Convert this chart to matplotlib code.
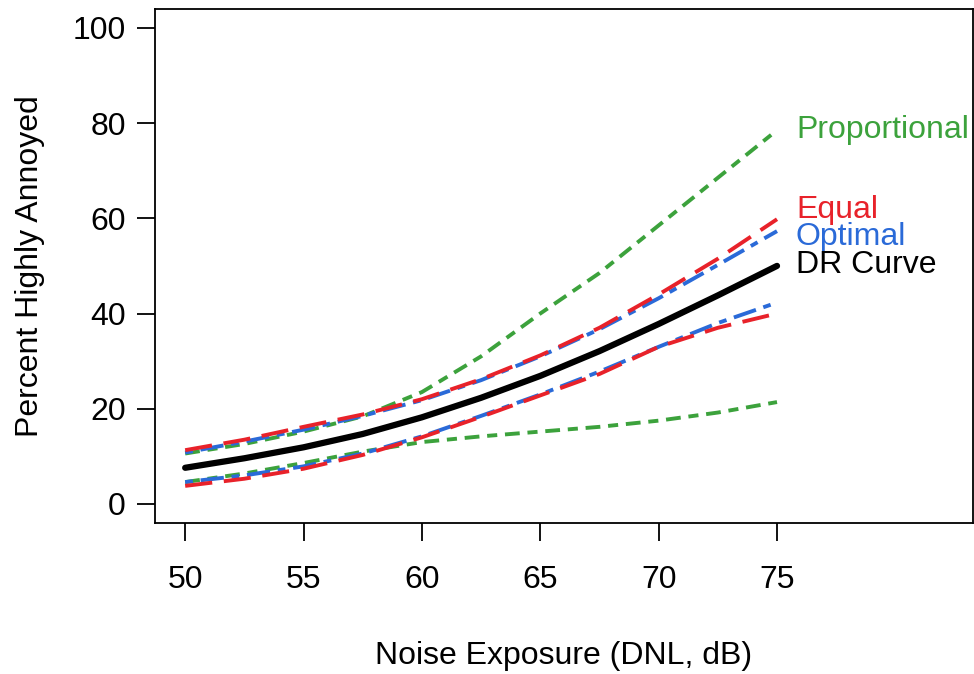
import matplotlib
matplotlib.use("Agg")
from matplotlib import pyplot as plt

plt.rcParams['font.family'] = ['Liberation Sans', 'DejaVu Sans']

dnl = [50, 52.5, 55, 57.5, 60, 62.5, 65, 67.5, 70, 72.5, 75]

dr_curve = [7.6, 9.6, 11.9, 14.7, 18.2, 22.3, 26.9, 32.1, 37.8, 43.8, 50.0]

equal_hi = [11.3, 13.5, 16.2, 18.8, 22.0, 26.2, 31.2, 37.0, 44.0, 51.5, 59.8]
equal_lo = [3.8, 5.3, 7.4, 10.3, 14.0, 18.3, 22.8, 27.3, 33.0, 37.0, 40.0]

optimal_hi = [10.8, 13.1, 15.6, 18.5, 21.8, 26.0, 31.0, 36.7, 43.2, 50.2, 57.3]
optimal_lo = [4.6, 6.0, 7.9, 10.6, 14.2, 18.5, 23.0, 27.8, 33.0, 38.0, 42.3]

prop_hi = [10.6, 12.6, 15.2, 18.4, 23.5, 31.0, 40.0, 48.5, 58.5, 68.5, 78.5]
prop_lo = [4.6, 6.4, 8.6, 11.0, 13.0, 14.2, 15.2, 16.2, 17.5, 19.2, 21.4]

red = "#e8222a"
blue = "#2a6ad8"
green = "#3ca23c"

fig = plt.figure(figsize=(9.74, 6.74), dpi=100)
ax = fig.add_axes([0.159, 0.224, 0.84, 0.763])

# green first so red/blue sit on top like the original
ax.plot(dnl, prop_hi, color=green, lw=2.8, dashes=(3.8, 2, 2.6, 2))
ax.plot(dnl, prop_lo, color=green, lw=2.8, dashes=(3.8, 2, 2.6, 2))
ax.plot(dnl, optimal_hi, color=blue, lw=2.8, dashes=(2, 2, 6, 2))
ax.plot(dnl, optimal_lo, color=blue, lw=2.8, dashes=(2, 2, 6, 2))
ax.plot(dnl, equal_hi, color=red, lw=2.8, dashes=(7, 3))
ax.plot(dnl, equal_lo, color=red, lw=2.8, dashes=(7, 3))
ax.plot(dnl, dr_curve, color="black", lw=4.5, solid_capstyle="round")

fs = 23

# labels at the right end of the curves
ax.text(75.8, 78.5, "Proportional", color=green, fontsize=fs, va="center")
ax.text(75.8, 61.8, "Equal", color=red, fontsize=fs, va="center")
ax.text(75.8, 56.0, "Optimal", color=blue, fontsize=fs, va="center")
ax.text(75.8, 50.1, "DR Curve", color="black", fontsize=fs, va="center")

ax.set_xlim(48.72, 83.28)
ax.set_ylim(-4, 104)
ax.set_xticks([50, 55, 60, 65, 70, 75])
ax.set_yticks([0, 20, 40, 60, 80, 100])

for s in ax.spines.values():
    s.set_linewidth(1.3)

ax.tick_params(axis="x", length=13, width=1.3, pad=17, labelsize=fs)
ax.tick_params(axis="y", length=13, width=1.3, pad=8, labelsize=fs)

ax.set_xlabel("Noise Exposure (DNL, dB)", fontsize=fs, labelpad=33)
ax.set_ylabel("Percent Highly Annoyed", fontsize=fs, labelpad=20)

fig.savefig("out.png", dpi=100)
